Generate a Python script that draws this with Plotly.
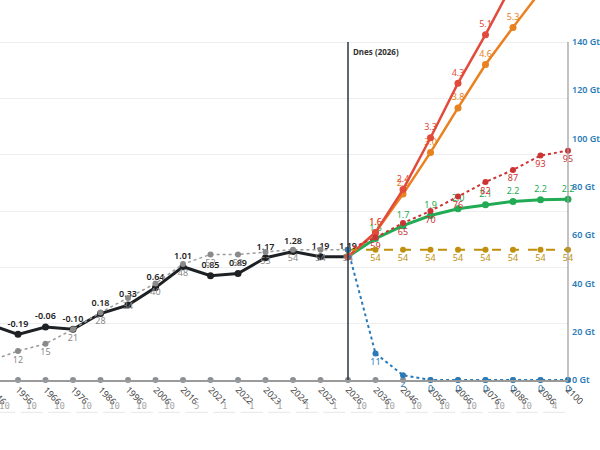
import plotly.graph_objects as go

# categories on the x axis (evenly spaced, not to scale)
years = [1946, 1956, 1966, 1976, 1986, 1996, 2006, 2016, 2021, 2022, 2023,
         2024, 2025, 2026, 2036, 2046, 2056, 2066, 2076, 2086, 2096, 2100]
# history: temperature anomaly (°C) and emissions (Gt)
hist_temp = [-0.02, -0.19, -0.06, -0.10, 0.18, 0.33, 0.64, 1.01, 0.85, 0.89,
             1.17, 1.28, 1.19, 1.19]
hist_emis = [8, 12, 15, 21, 28, 34, 40, 48, 52, 52, 53, 54, 54, 54]
# scenarios from 2026 to 2100
temp_red = [1.19, 1.62, 2.38, 3.30, 4.27, 5.13, 6.05, 6.95, 7.30]
temp_orange = [1.19, 1.62, 2.30, 3.04, 3.83, 4.60, 5.26, 5.90, 6.15]
temp_green = [1.19, 1.51, 1.74, 1.92, 2.04, 2.11, 2.17, 2.20, 2.21]
emis_red = [54, 59, 65, 70, 76, 82, 87, 93, 95]
emis_flat = [54, 54, 54, 54, 54, 54, 54, 54, 54]
emis_zero = [54, 11, 2, 0, 0, 0, 0, 0, 0]
gt_ticks = [0, 20, 40, 60, 80, 100, 120, 140]

FONT = "Noto Sans"
idx = list(range(len(years)))
n_hist = len(hist_temp)
hist_x = idx[:n_hist]
fut_x = idx[n_hist - 1:]
gaps = [years[i + 1] - years[i] for i in range(len(years) - 1)]

X_LO, X_HI = 0.345, len(years) - 1
PLOT_W = 568
PX = PLOT_W / (X_HI - X_LO)


def labels(vals, fmt, skip_first=False):
    out = [fmt % v for v in vals]
    if skip_first:
        out[0] = ""
    return out


fig = go.Figure()

# grey dots sitting on the x axis
fig.add_trace(go.Scatter(
    x=idx, y=[-1] * len(idx), mode="markers",
    marker=dict(color="#8a8f94", size=6), cliponaxis=False))

# history emissions (right axis)
fig.add_trace(go.Scatter(
    x=hist_x, y=hist_emis, yaxis="y2", mode="lines+markers+text",
    line=dict(color="#9a9a9a", width=1.5, dash="dot"),
    marker=dict(color="#8a8a8a", size=6),
    text=labels(hist_emis, "%d"), textposition="bottom center",
    textfont=dict(color="#8a8a8a", size=9, family=FONT), cliponaxis=False))

# history temperature
fig.add_trace(go.Scatter(
    x=hist_x, y=hist_temp, mode="lines+markers+text",
    line=dict(color="#1e2124", width=3),
    marker=dict(color="#1e2124", size=7),
    text=labels(hist_temp, "%.2f"), textposition="top center",
    textfont=dict(color="#222", size=9, family=FONT, weight=600), cliponaxis=False))

# scenario emissions
for vals, col, dash in [(emis_red, "#cc3333", "dot"),
                        (emis_flat, "#c0900c", "dash"),
                        (emis_zero, "#2a7ab8", "dot")]:
    fig.add_trace(go.Scatter(
        x=fut_x, y=vals, yaxis="y2", mode="lines+markers+text",
        line=dict(color=col, width=2, dash=dash),
        marker=dict(color=col, size=6),
        text=labels(vals, "%d", True), textposition="bottom center",
        textfont=dict(color=col, size=9, family=FONT), cliponaxis=False))

# scenario temperatures
for vals, col, w in [(temp_green, "#22ab55", 3),
                     (temp_orange, "#ea8120", 2.5),
                     (temp_red, "#e24a3b", 2.5)]:
    fig.add_trace(go.Scatter(
        x=fut_x, y=vals, mode="lines+markers+text",
        line=dict(color=col, width=w),
        marker=dict(color=col, size=7),
        text=labels(vals, "%.1f", True), textposition="top center",
        textfont=dict(color=col, size=9, family=FONT), cliponaxis=False))

# "today" marker line
today = years.index(2026)
fig.add_shape(type="line", x0=today, x1=today, y0=-1, y1=5, xref="x", yref="y",
              line=dict(color="#2b3440", width=1.5))
fig.add_annotation(x=today, y=5, xref="x", yref="y", text="<b>Dnes (2026)</b>",
                   showarrow=False, xanchor="left", yanchor="top", xshift=3, yshift=-2,
                   font=dict(size=8, color="#333", family=FONT))

# right axis line (only up to the last tick)
fig.add_shape(type="line", x0=1, x1=1, y0=0, y1=gt_ticks[-1], xref="paper", yref="y2",
              line=dict(color="#9a9a9a", width=1.2))

# slanted year labels: text starts at the tick and runs down-right
for i, yr in zip(idx, years):
    xa = max(i, X_LO)
    fig.add_annotation(x=xa, y=0, xref="x", yref="paper", text=str(yr),
                       showarrow=False, textangle=45, xanchor="left", yanchor="top",
                       xshift=(i - xa) * PX - 8, yshift=-1,
                       font=dict(size=9, color="#444", family=FONT))

# interval labels below the axis
for i, g in enumerate(gaps):
    fig.add_annotation(x=i + 0.5, y=-0.069, xref="x", yref="paper", text=str(g),
                       showarrow=False, yanchor="middle",
                       font=dict(size=9, color="#a8a8a8", family="DejaVu Sans Mono"))
    fig.add_shape(type="line", x0=i + 0.1, x1=i + 0.9, y0=-0.085, y1=-0.085,
                  xref="x", yref="paper", line=dict(color="#e6e6e6", width=1))

fig.update_layout(
    width=600, height=450,
    margin=dict(l=0, r=32, t=0, b=70),
    plot_bgcolor="white", paper_bgcolor="white",
    showlegend=False, hovermode=False,
    xaxis=dict(
        range=[X_LO, X_HI], showticklabels=False,
        showgrid=False, zeroline=False, showline=True, linecolor="#9a9a9a", linewidth=1.5,
        ticks=""),
    yaxis=dict(
        range=[-1, 5.746], tickvals=[-1, 0, 1, 2, 3, 4, 5], showticklabels=False,
        showgrid=True, gridcolor="#eeeeee", zeroline=False, showline=False),
    yaxis2=dict(
        overlaying="y", side="right", range=[0, 157.4], tickvals=gt_ticks,
        ticktext=["%d Gt" % v for v in gt_ticks], showgrid=False, zeroline=False,
        showline=False, ticks="", ticklabelstandoff=3,
        tickfont=dict(size=9, color="#2a7ab8", family=FONT, weight=600)),
)

fig.write_html("out.html", config={"displayModeBar": False},
               post_script="document.body.style.margin='0';")
